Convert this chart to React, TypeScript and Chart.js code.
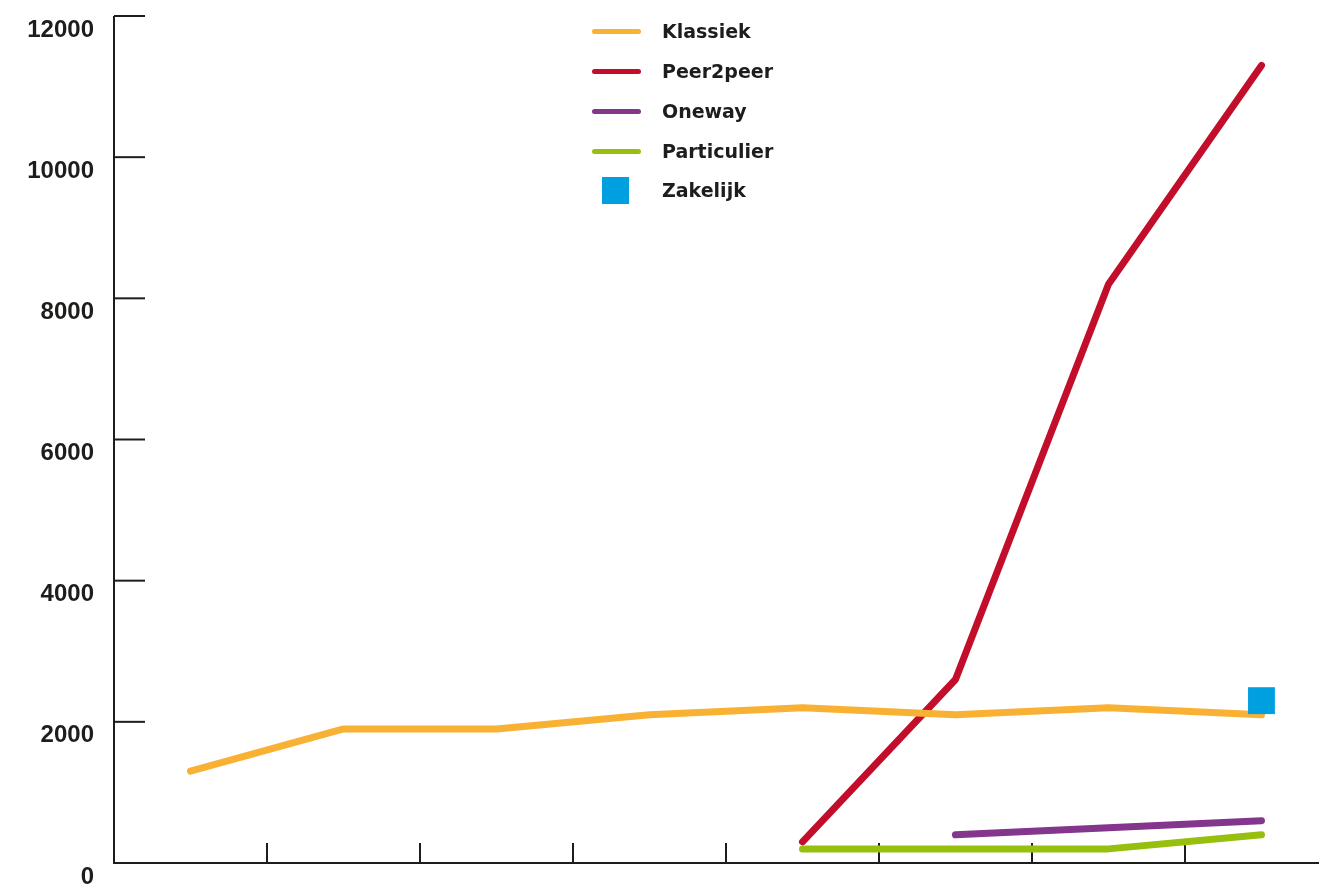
import React, { useEffect, useRef } from "react";
import { Chart, registerables } from "chart.js";

Chart.register(...registerables);

const categories = ["1", "2", "3", "4", "5", "6", "7", "8"];
const klassiek = [1300, 1900, 1900, 2100, 2200, 2100, 2200, 2100];
const peer2peer = [null, null, null, null, 300, 2600, 8200, 11300];
const oneway = [null, null, null, null, null, 400, 500, 600];
const particulier = [null, null, null, null, 200, 200, 200, 400];
const zakelijk = [null, null, null, null, null, null, null, 2300];
const yTicks = [0, 2000, 4000, 6000, 8000, 10000, 12000];

const seriesNames = ["Klassiek", "Peer2peer", "Oneway", "Particulier", "Zakelijk"];
const seriesColors = ["#F9B133", "#C20E2B", "#83368B", "#97BF0D", "#009FE0"];

const INK = "#1d1d1b";

// x axis shows category bands; the last band is cut by the right edge of the picture
const X_MIN = -0.5;
const X_MAX = 7.376;

const toPoints = (arr: (number | null)[]) => arr.map((v, i) => ({ x: i, y: v }));

const axesPlugin = {
  id: "customAxes",
  beforeDatasetsDraw(chart: any) {
    const { ctx, chartArea, scales } = chart;
    const x = scales.x;
    const y = scales.y;
    ctx.save();
    ctx.strokeStyle = INK;
    ctx.lineWidth = 2;
    ctx.lineCap = "butt";
    ctx.beginPath();
    ctx.moveTo(chartArea.left, chartArea.top);
    ctx.lineTo(chartArea.left, chartArea.bottom + 1);
    ctx.stroke();
    ctx.beginPath();
    ctx.moveTo(chartArea.left - 1, chartArea.bottom);
    ctx.lineTo(chart.width, chartArea.bottom);
    ctx.stroke();
    yTicks.forEach((v) => {
      const py = y.getPixelForValue(v);
      ctx.beginPath();
      ctx.moveTo(chartArea.left, py);
      ctx.lineTo(chartArea.left + 31, py);
      ctx.stroke();
    });
    for (let i = 1; i < categories.length; i++) {
      const px = x.getPixelForValue(i - 0.5);
      ctx.beginPath();
      ctx.moveTo(px, chartArea.bottom);
      ctx.lineTo(px, chartArea.bottom - 20);
      ctx.stroke();
    }
    ctx.restore();
  },
};

function lineDs(label: string, data: (number | null)[], color: string, order: number) {
  return {
    label,
    data: toPoints(data),
    borderColor: color,
    backgroundColor: color,
    borderWidth: 7,
    borderCapStyle: "round" as const,
    borderJoinStyle: "round" as const,
    pointRadius: 0,
    pointHoverRadius: 0,
    tension: 0,
    spanGaps: false,
    fill: false,
    order,
  };
}

export default function App() {
  const canvasRef = useRef<HTMLCanvasElement | null>(null);

  useEffect(() => {
    document.body.style.margin = "0";
    const canvas = canvasRef.current;
    if (!canvas) return;
    const chart = new Chart(canvas, {
      type: "line",
      data: {
        datasets: [
          lineDs(seriesNames[0], klassiek, seriesColors[0], 1),
          lineDs(seriesNames[1], peer2peer, seriesColors[1], 4),
          lineDs(seriesNames[2], oneway, seriesColors[2], 3),
          lineDs(seriesNames[3], particulier, seriesColors[3], 2),
          {
            label: seriesNames[4],
            data: toPoints(zakelijk),
            showLine: false,
            borderColor: seriesColors[4],
            backgroundColor: seriesColors[4],
            pointStyle: "rect",
            pointRadius: 19,
            pointHoverRadius: 19,
            pointBorderWidth: 0,
            order: 0,
          } as any,
        ],
      },
      options: {
        responsive: false,
        animation: false,
        devicePixelRatio: 1,
        events: [],
        layout: { autoPadding: false, padding: { top: 16, bottom: 22, left: 0, right: 0 } },
        plugins: {
          legend: { display: false },
          tooltip: { enabled: false },
        },
        scales: {
          x: {
            type: "linear",
            min: X_MIN,
            max: X_MAX,
            grid: { display: false, drawTicks: false, tickLength: 0 },
            border: { display: false },
            ticks: { display: false },
            afterFit: (scale: any) => {
              scale.height = 0;
              scale.paddingLeft = 0;
              scale.paddingRight = 0;
              scale.paddingTop = 0;
              scale.paddingBottom = 0;
            },
          },
          y: {
            type: "linear",
            min: 0,
            max: 12000,
            grid: { display: false, drawTicks: false, tickLength: 0 },
            border: { display: false },
            ticks: {
              stepSize: 2000,
              padding: 20,
              labelOffset: 14,
              color: INK,
              font: { family: "'Liberation Sans', Arial, sans-serif", size: 24, weight: "bold" },
              callback: (v: any) => String(v),
            },
            afterFit: (scale: any) => {
              scale.width = 114;
              scale.paddingLeft = 0;
              scale.paddingRight = 0;
              scale.paddingTop = 0;
              scale.paddingBottom = 0;
            },
          },
        },
      },
      plugins: [axesPlugin],
    });
    return () => chart.destroy();
  }, []);

  const legendRows = [0, 1, 2, 3, 4];
  const rowCenters = [31, 71, 111, 151, 190];

  return (
    <div
      style={{
        position: "fixed",
        left: 0,
        top: 0,
        width: 1319,
        height: 885,
        overflow: "hidden",
        background: "#fff",
      }}
    >
      <canvas ref={canvasRef} width={1319} height={885} style={{ width: 1319, height: 885, display: "block" }} />
      {legendRows.map((i) => (
        <div
          key={i}
          style={{
            position: "absolute",
            left: 590,
            top: rowCenters[i] - 15,
            height: 30,
            display: "flex",
            alignItems: "center",
          }}
        >
          <div style={{ width: 58, display: "flex", justifyContent: "center", alignItems: "center" }}>
            {i < 4 ? (
              <div
                style={{
                  width: 49,
                  height: 5,
                  borderRadius: 3,
                  background: seriesColors[i],
                  marginLeft: -5,
                }}
              />
            ) : (
              <div style={{ width: 27, height: 27, background: seriesColors[i], marginLeft: -8 }} />
            )}
          </div>
          <span
            style={{
              marginLeft: 14,
              fontFamily: "'DejaVu Sans', sans-serif",
              fontWeight: "bold",
              fontSize: 19,
              color: INK,
              lineHeight: "30px",
              whiteSpace: "nowrap",
            }}
          >
            {seriesNames[i]}
          </span>
        </div>
      ))}
    </div>
  );
}
